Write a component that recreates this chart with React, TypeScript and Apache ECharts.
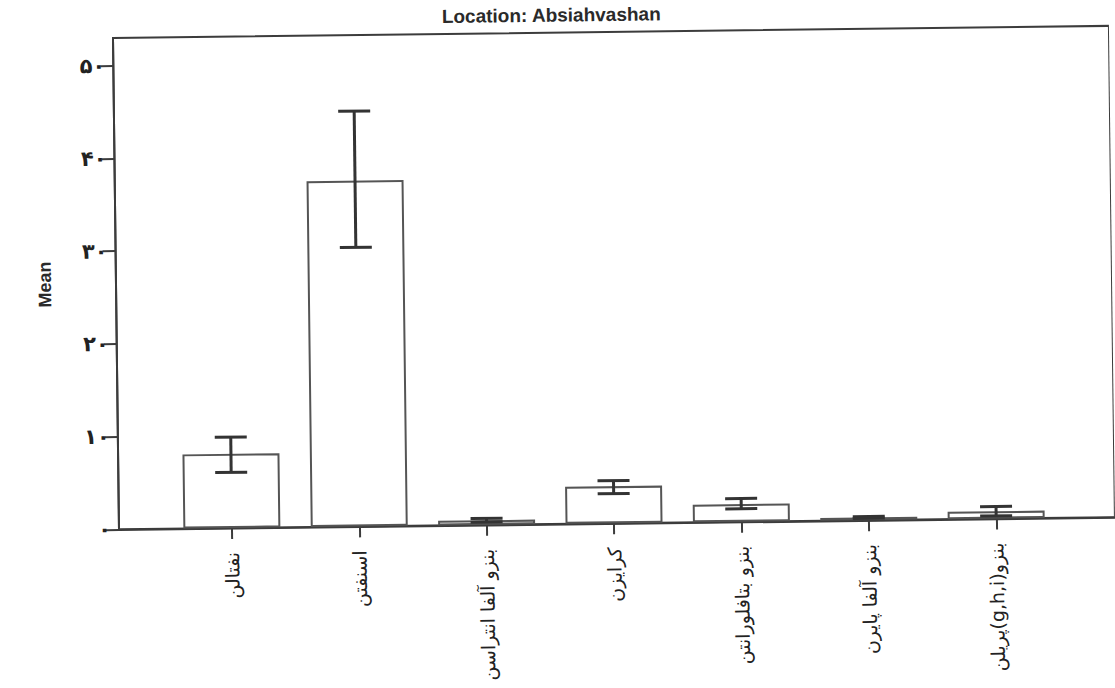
import React, { useEffect, useRef } from "react";
import * as echarts from "echarts";

const categories = [
  "نفتالن",
  "اسنفتن",
  "بنزو آلفا انتراسن",
  "کرایزن",
  "بنزو بتافلورانتن",
  "بنزو آلفا پایرن",
  "بنزو(g,h,i)پریلن",
];
const means = [8.0, 37.3, 0.5, 4.0, 1.9, 0.3, 0.8];
const lowerCI = [6.0, 30.1, 0.3, 3.2, 1.4, 0.2, 0.3];
const upperCI = [9.8, 44.8, 0.7, 4.6, 2.5, 0.4, 1.3];
const yTicks = [0, 10, 20, 30, 40, 50];

const persianDigits = ["۰", "۱", "۲", "۳", "۴", "۵", "۶", "۷", "۸", "۹"];
const toPersian = (n: number) =>
  String(n)
    .split("")
    .map((c) => (c >= "0" && c <= "9" ? persianDigits[+c] : c))
    .join("");

const INK = "#3c3c3c";

export default function App() {
  const ref = useRef<HTMLDivElement>(null);
  useEffect(() => {
    document.body.style.margin = "0";
    document.body.style.overflow = "hidden";
    const chart = echarts.init(ref.current!, null, { renderer: "svg" });
    const idx = categories.map((_, i) => i);
    chart.setOption({
      animation: false,
      backgroundColor: "#ffffff",
      title: {
        text: "Location: Absiahvashan",
        left: "center",
        top: 6,
        textStyle: {
          fontFamily: "'Liberation Sans', Arial, sans-serif",
          fontWeight: "bold",
          fontSize: 19,
          color: "#2a2a2a",
        },
      },
      grid: {
        left: 119,
        top: 38,
        right: -10,
        bottom: 158,
        show: true,
        borderColor: INK,
        borderWidth: 2,
        containLabel: false,
      },
      xAxis: {
        type: "value",
        min: -0.886,
        max: 6.932,
        splitLine: { show: false },
        axisLine: { show: true, onZero: false, lineStyle: { color: INK, width: 2 } },
        axisTick: {
          show: true,
          length: 11,
          customValues: idx,
          lineStyle: { color: INK, width: 2 },
        },
        axisLabel: {
          show: true,
          customValues: idx,
          rotate: 90,
          margin: 24,
          fontFamily: "'DejaVu Sans', sans-serif",
          fontSize: 19,
          color: "#222",
          formatter: (v: number) => {
            const s = categories[Math.round(v)] ?? "";
            return /[A-Za-z]/.test(s) ? "\u202B" + s + "\u202C" : s;
          },
        },
      },
      yAxis: {
        type: "value",
        min: 0,
        max: 53,
        interval: 10,
        name: "Mean",
        nameLocation: "middle",
        nameGap: 62,
        nameRotate: 90,
        nameTextStyle: {
          fontFamily: "'Liberation Sans', Arial, sans-serif",
          fontWeight: "bold",
          fontSize: 18,
          color: "#2a2a2a",
        },
        splitLine: { show: false },
        axisLine: { show: true, onZero: false, lineStyle: { color: INK, width: 2 } },
        axisTick: { show: true, length: 13, customValues: yTicks, lineStyle: { color: INK, width: 2 } },
        axisLabel: {
          margin: 8,
          fontFamily: "'DejaVu Sans', sans-serif",
          fontWeight: "bold",
          fontSize: 21,
          color: "#222",
          customValues: yTicks,
          formatter: (v: number) => toPersian(v),
        },
      },
      series: [
        {
          type: "bar",
          barWidth: 97,
          data: means.map((m, i) => [i, m]),
          itemStyle: { color: "#ffffff", borderColor: "#555", borderWidth: 2 },
          z: 2,
        },
        {
          type: "custom",
          data: idx.map((i) => [i, lowerCI[i], upperCI[i]]),
          encode: { x: 0, y: [1, 2] },
          z: 3,
          renderItem: (params: any, api: any) => {
            const x = api.value(0);
            const lo = api.coord([x, api.value(1)]);
            const hi = api.coord([x, api.value(2)]);
            const hw = 16;
            const style = { stroke: "#333", lineWidth: 3 };
            return {
              type: "group",
              children: [
                { type: "line", shape: { x1: hi[0], y1: hi[1], x2: lo[0], y2: lo[1] }, style },
                { type: "line", shape: { x1: hi[0] - hw, y1: hi[1], x2: hi[0] + hw, y2: hi[1] }, style },
                { type: "line", shape: { x1: lo[0] - hw, y1: lo[1], x2: lo[0] + hw, y2: lo[1] }, style },
              ],
            };
          },
        },
      ],
    });
    return () => chart.dispose();
  }, []);
  return (
    <div
      ref={ref}
      style={{
        width: 1115,
        height: 688,
        transform: "rotate(-0.7deg)",
        transformOrigin: "119px 530px",
      }}
    />
  );
}
